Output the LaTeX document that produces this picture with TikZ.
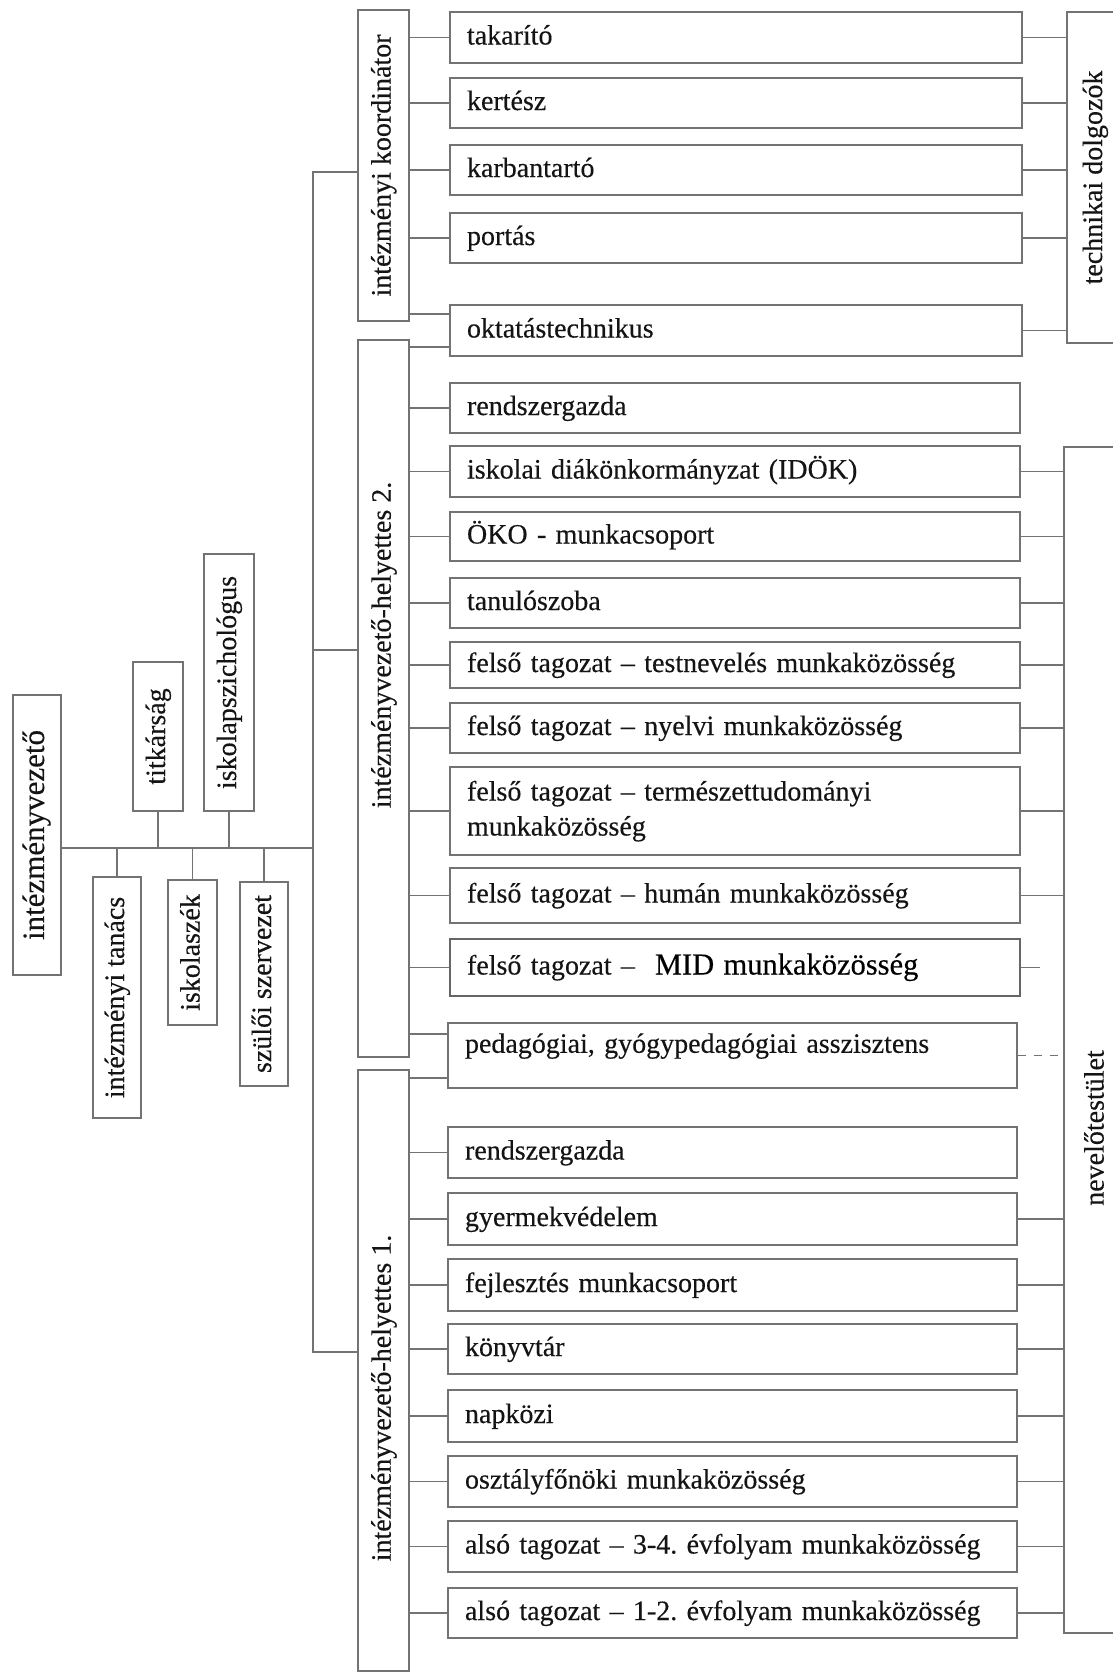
\documentclass[tikz,border=0pt]{standalone}
\usepackage{fontspec}
\setmainfont{Liberation Serif}[FakeBold=0.3]
\frenchspacing
\definecolor{linec}{RGB}{115,115,115}
\definecolor{txtc}{RGB}{20,20,20}
\newcommand\hbx[7][]{%
  \pgfmathsetmacro\bxW{#5-#3}%
  \pgfmathsetmacro\bxH{#6-#4}%
  \pgfmathsetmacro\bxT{#5-#3-34}%
  \pgfmathsetmacro\bxX{(#3+#5)/2}%
  \pgfmathsetmacro\bxY{(#4+#6)/2}%
  \node[hb,#1,minimum width=\bxW pt,minimum height=\bxH pt,text width=\bxT pt] (#2) at (\bxX,\bxY) {#7};}
\newcommand\vbx[7][]{%
  \pgfmathsetmacro\bxW{#5-#3}%
  \pgfmathsetmacro\bxH{#6-#4}%
  \pgfmathsetmacro\bxX{(#3+#5)/2}%
  \pgfmathsetmacro\bxY{(#4+#6)/2}%
  \node[bx,#1,minimum width=\bxW pt,minimum height=\bxH pt] (#2) at (\bxX,\bxY) {\rotatebox{90}{\strut #7}};}
\begin{document}
\begin{tikzpicture}[x=1pt,y=-1pt,
  bx/.style={draw=linec, line width=1.3pt, rectangle, inner sep=0pt, text=txtc, font=\fontsize{28}{35}\selectfont},
  hb/.style={bx, align=left, inner xsep=17pt, inner ysep=0pt, execute at begin node=\strut, execute at end node=\strut},
  txt/.style={text=txtc, font=\fontsize{28}{35}\selectfont, inner sep=0pt},
  ln/.style={draw=linec, line width=1.3pt},
  midbox/.style={line width=2.4pt, draw=black!60}
]
\useasboundingbox (0,0) rectangle (1113,1673);
\fill[white] (0,0) rectangle (1113,1673);

% left cluster
\vbx[font=\fontsize{31}{35}\selectfont]{iv}{13}{695}{61}{975}{intézményvezető}
\vbx{tit}{133}{662}{183}{811}{titkárság}
\vbx{isp}{204}{554}{254}{811}{iskolapszichológus}
\vbx{itan}{93}{877}{141}{1118}{intézményi tanács}
\vbx{isz}{168}{880}{217}{1025}{iskolaszék}
\vbx{szsz}{240}{882}{288}{1086}{szülői szervezet}

% second column
\vbx{koord}{358}{10}{409}{321}{intézményi koordinátor}
\vbx{h2}{358}{340}{409}{1057}{}
\vbx{h1}{358}{1070}{409}{1671}{}
\node[txt,rotate=90] (h2t) at (384,645) {intézményvezető-helyettes 2.};
\node[txt,rotate=90] (h1t) at (384,1398) {intézményvezető-helyettes 1.};

% middle boxes
\hbx{tak}{450}{12}{1022}{63}{takarító}
\hbx{ker}{450}{78}{1022}{128}{kertész}
\hbx{kar}{450}{145}{1022}{195}{karbantartó}
\hbx{por}{450}{213}{1022}{263}{portás}
\hbx{okt}{450}{305}{1022}{356}{oktatástechnikus}
\hbx{rg2}{450}{383}{1020}{433}{rendszergazda}
\hbx{idok}{450}{446}{1020}{497}{iskolai diákönkormányzat (IDÖK)}
\hbx{oko}{450}{512}{1020}{561}{ÖKO - munkacsoport}
\hbx{tan}{450}{578}{1020}{628}{tanulószoba}
\hbx{tes}{450}{642}{1020}{688}{felső tagozat – testnevelés munkaközösség}
\hbx{nye}{450}{703}{1020}{753}{felső tagozat – nyelvi munkaközösség}
\hbx{ter}{450}{767}{1020}{855}{felső tagozat – természettudományi\\munkaközösség}
\hbx{hum}{450}{868}{1020}{923}{felső tagozat – humán munkaközösség}
\hbx[midbox]{mid}{450}{939}{1020}{996}{felső tagozat –\hspace{20pt}{\fontsize{30.5}{35}\selectfont\color{black}MID munkaközösség}}
\hbx[text depth=30pt]{ped}{448}{1023}{1017}{1088}{pedagógiai, gyógypedagógiai asszisztens}
\hbx{rg1}{448}{1127}{1017}{1178}{rendszergazda}
\hbx{gye}{448}{1193}{1017}{1245}{gyermekvédelem}
\hbx{fej}{448}{1259}{1017}{1311}{fejlesztés munkacsoport}
\hbx{kon}{448}{1324}{1017}{1374}{könyvtár}
\hbx{nap}{448}{1390}{1017}{1442}{napközi}
\hbx{osz}{448}{1456}{1017}{1507}{osztályfőnöki munkaközösség}
\hbx{a34}{448}{1521}{1017}{1572}{alsó tagozat – 3-4. évfolyam munkaközösség}
\hbx{a12}{448}{1588}{1017}{1638}{alsó tagozat – 1-2. évfolyam munkaközösség}

% right boxes
\vbx{tech}{1067}{12}{1123}{343}{technikai dolgozók}
\vbx{nev}{1064}{447}{1124}{1633}{}
\node[txt,rotate=90] (nevt) at (1094,1128) {nevelőtestület};

% trunk
\coordinate (tA) at (313,172);
\coordinate (tB) at (313,650);
\coordinate (tC) at (313,1352);
\coordinate (tM) at (313,848);
\draw[ln] (koord.west |- tA) -- (tA) -- (tC) -- (h1.west |- tC);
\draw[ln] (tB) -- (h2.west |- tB);
\draw[ln] (iv.east |- tM) -- (tM);
\foreach \n in {tit,isp} \draw[ln] (\n.south) -- (\n.south |- tM);
\foreach \n in {itan,isz,szsz} \draw[ln] (\n.north) -- (\n.north |- tM);

% left connectors of the middle boxes
\foreach \n in {tak,ker,kar,por} \draw[ln] (koord.east |- \n.west) -- (\n.west);
\coordinate (ok1) at (450,314);
\coordinate (ok2) at (450,347);
\draw[ln] (koord.east |- ok1) -- (ok1);
\draw[ln] (h2.east |- ok2) -- (ok2);
\foreach \n in {rg2,idok,oko,tan,tes,nye,ter,hum,mid} \draw[ln] (h2.east |- \n.west) -- (\n.west);
\coordinate (pd1) at (448,1034);
\coordinate (pd2) at (448,1078);
\draw[ln] (h2.east |- pd1) -- (pd1);
\draw[ln] (h1.east |- pd2) -- (pd2);
\foreach \n in {rg1,gye,fej,kon,nap,osz,a34,a12} \draw[ln] (h1.east |- \n.west) -- (\n.west);

% right connectors
\foreach \n in {tak,ker,kar,por,okt} \draw[ln] (\n.east) -- (\n.east -| tech.west);
\foreach \n in {idok,oko,tan,tes,nye,ter,hum,gye,fej,kon,nap,osz,a34,a12} \draw[ln] (\n.east) -- (\n.east -| nev.west);
\coordinate (midend) at (1040,967.5);
\draw[ln] (mid.east) -- (midend);
\draw[ln, dash pattern=on 8pt off 8pt] (ped.east) -- (ped.east -| nev.west);
\end{tikzpicture}
\end{document}
